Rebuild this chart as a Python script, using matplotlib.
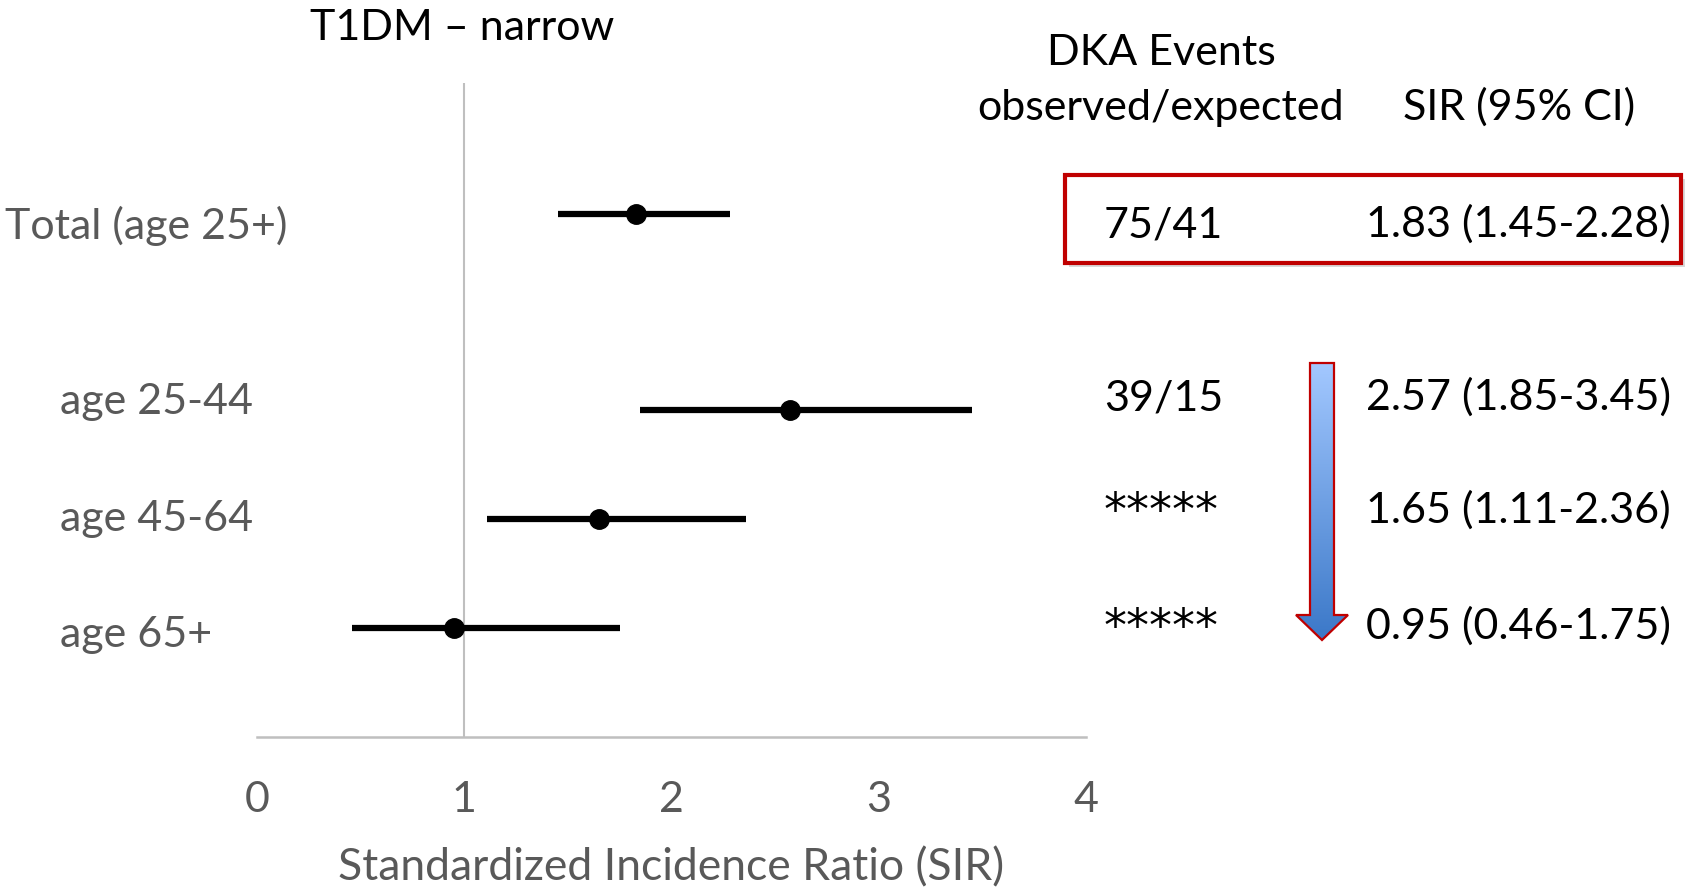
import numpy as np
import matplotlib
matplotlib.use("Agg")
import matplotlib.pyplot as plt
from matplotlib.patches import Polygon, Rectangle

plt.rcParams['font.family'] = ['Lato', 'DejaVu Sans']

# Datos del gráfico
grupos = ["Total (age 25+)", "age 25-44", "age 45-64", "age 65+"]
pos_y = [4.8, 3, 2, 1]
sir = [1.83, 2.57, 1.65, 0.95]
ic_bajo = [1.45, 1.85, 1.11, 0.46]
ic_alto = [2.28, 3.45, 2.36, 1.75]
eventos = ["75/41", "39/15", "*****", "*****"]
ticks_x = [0, 1, 2, 3, 4]

etiquetas_sir = [f"{s:.2f} ({lo:.2f}-{hi:.2f})" for s, lo, hi in zip(sir, ic_bajo, ic_alto)]

W, H = 1686, 888
fs = 31
fig = plt.figure(figsize=(W / 100, H / 100), dpi=100)

# Eje principal (forest plot)
ax = fig.add_axes([257 / W, 151 / H, 829 / W, 654 / H])
ax.set_xlim(0, 4)
ax.set_ylim(0, 6)
ax.hlines(pos_y, ic_bajo, ic_alto, color='black', lw=4.5, zorder=3)
ax.plot(sir, pos_y, 'o', color='black', ms=14, zorder=4)
ax.axvline(1, color='#BFBFBF', lw=1.5, zorder=1)
for lado in ['top', 'right', 'left']:
    ax.spines[lado].set_visible(False)
ax.spines['bottom'].set_color('#BFBFBF')
ax.spines['bottom'].set_linewidth(1.8)
ax.set_yticks([])
ax.set_xticks(ticks_x)
ax.tick_params(axis='x', length=0, pad=32, labelsize=fs, labelcolor='#595959')
ax.set_xlabel("Standardized Incidence Ratio (SIR)", fontsize=32, color='#595959', labelpad=20)

# Capa superpuesta en píxeles para textos y anotaciones
ov = fig.add_axes([0, 0, 1, 1])
ov.set_xlim(0, W)
ov.set_ylim(H, 0)
ov.axis("off")

ov.text(462, 40, "T1DM \u2013 narrow", fontsize=fs, ha='center', va='baseline')

x_etq = [5, 60, 60, 60]
base_etq = [239, 414, 531, 647]
for nombre, x, b in zip(grupos, x_etq, base_etq):
    ov.text(x, b, nombre, fontsize=fs, color='#595959', ha='left', va='baseline')

ov.text(1161, 65, "DKA Events", fontsize=fs, ha='center', va='baseline')
ov.text(1161, 120, "observed/expected", fontsize=fs, ha='center', va='baseline')
ov.text(1519, 120, "SIR (95% CI)", fontsize=fs, ha='center', va='baseline')

base_der = [237, 410, 523, 639]
for ev, et, b in zip(eventos, etiquetas_sir, base_der):
    if ev.startswith('*'):
        ov.text(1104, b + 2, ev, fontsize=33, ha='left', va='baseline', family=['DejaVu Sans'])
    else:
        ov.text(1104, b, ev, fontsize=fs, ha='left', va='baseline')
    ov.text(1366, b, et, fontsize=fs, ha='left', va='baseline')

# Recuadro rojo con sombra
ov.add_patch(Rectangle((1069, 179), 616, 88, facecolor='#D9D9D9', edgecolor='none', zorder=1))
ov.add_patch(Rectangle((1065, 175), 616, 88, facecolor='white', edgecolor='#C00000', lw=3, zorder=2))

# Flecha con degradado
vertices = [(1310, 363), (1334, 363), (1334, 615), (1348, 615), (1322, 640),
            (1296, 615), (1310, 615)]
flecha = Polygon(vertices, closed=True, facecolor='none', edgecolor='#C00000', lw=1.6, zorder=4)
grad = np.linspace(0, 1, 256).reshape(-1, 1)
cmap = matplotlib.colors.LinearSegmentedColormap.from_list("azul", ["#A3C8FF", "#3B78C8"])
img = ov.imshow(grad, cmap=cmap, extent=(1296, 1348, 640, 363), aspect='auto', zorder=3)
ov.add_patch(flecha)
img.set_clip_path(flecha)
ov.set_xlim(0, W)
ov.set_ylim(H, 0)

fig.savefig("out.png", dpi=100)
